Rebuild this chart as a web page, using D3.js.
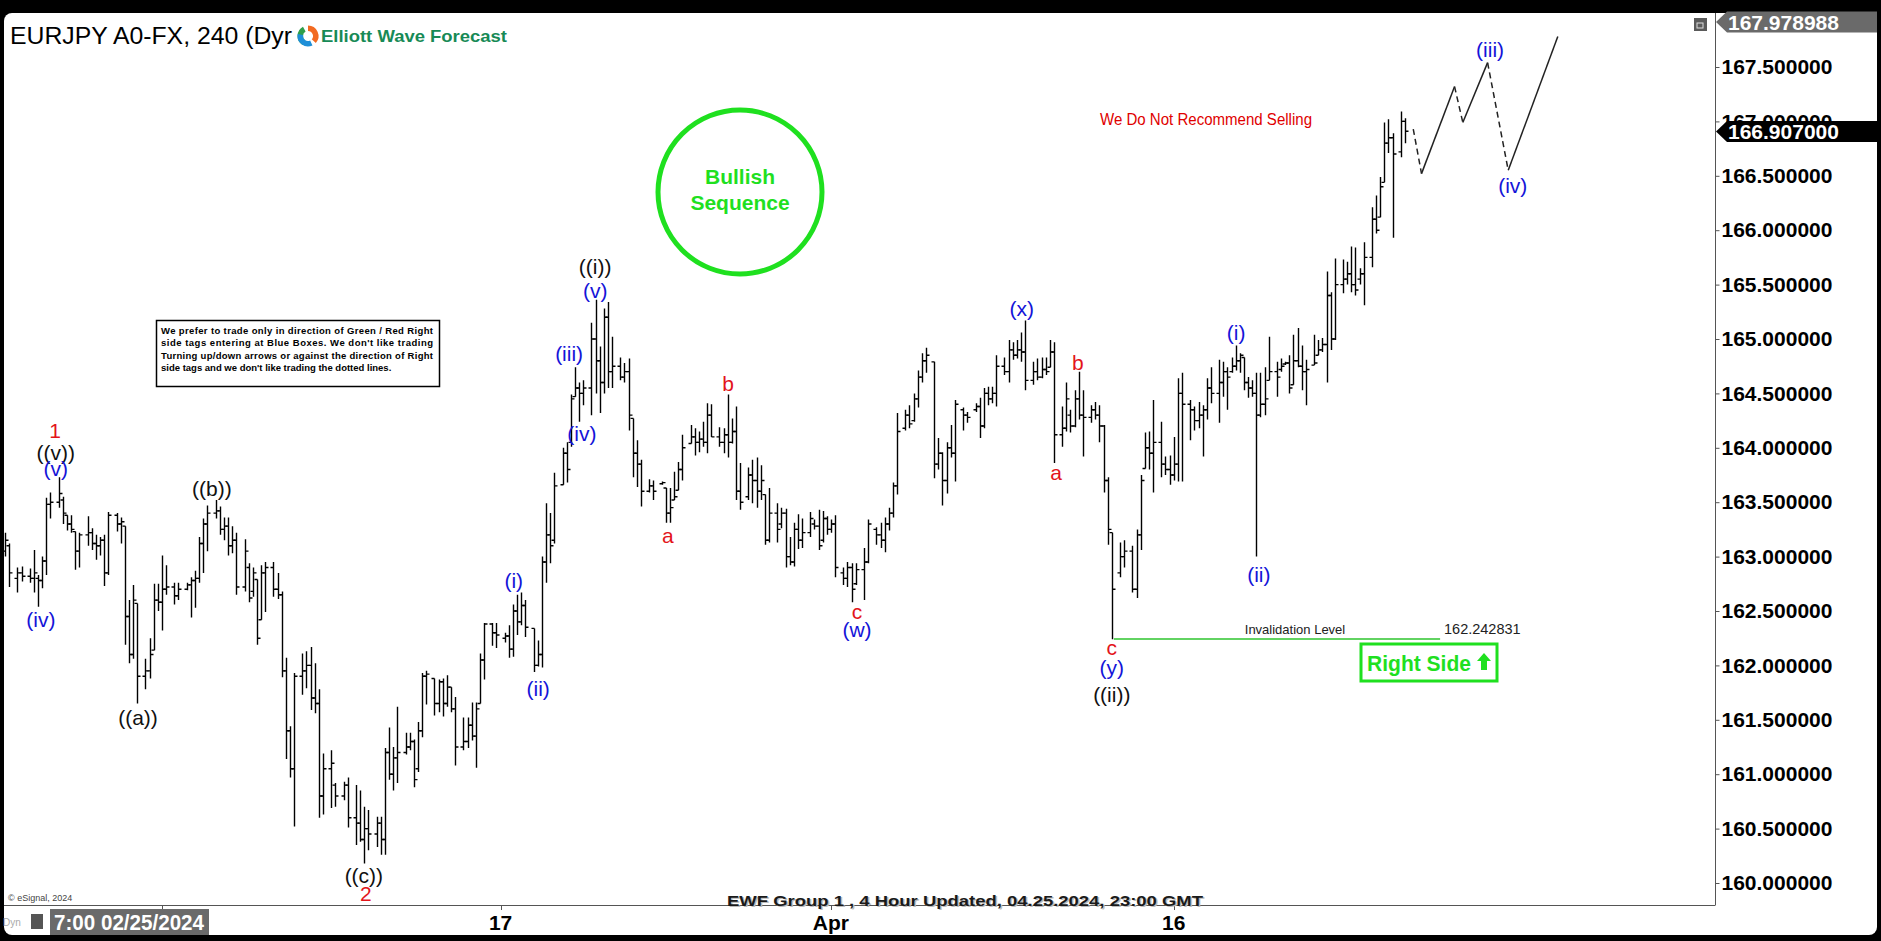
<!DOCTYPE html>
<html><head><meta charset="utf-8">
<script src="https://cdn.jsdelivr.net/npm/d3@7"></script>
<style>body{margin:0;background:#000;overflow:hidden}svg{display:block}</style>
</head><body>
<svg id="chart" width="1881" height="941"></svg>
<script>
// ---------- DATA (4-hour bars, index = bar slot) ----------
const barSlot = [
 0,1,3,4,6,7,8,9,10,11,13,14,15,16,17,18,20,21,22,23,24,25,27,28,29,30,31,32,34,35,36,37,38,39,41,42,44,45,46,47,48,49,51,52,53,54,55,56,58,
 59,60,61,62,63,65,66,67,68,69,70,72,73,74,75,76,77,79,80,82,83,85,86,87,88,90,91,92,93,94,95,97,98,99,100,101,102,104,105,106,107,108,109,111,112,113,114,115,116,118,119,
 121,122,123,124,125,126,128,129,130,131,132,133,135,136,137,138,139,140,142,143,144,145,146,147,149,150,151,152,153,154,156,157,159,160,161,162,163,164,166,167,168,169,170,171,173,174,175,176,177,178,180,181,182,
 183,184,185,187,188,189,190,191,192,193,195,196,197,198,199,200,201,203,204,205,206,208,209,211,212,213,214,215,216,218,219,220,221,222,223,225,226,227,228,229,230,232,233,235,236,237,238,239,240,242,243,
 244,245,246,247,249,250,251,252,253,254,256,257,258,259,260,261,263,264,265,266,267,268,270,271,273,274,275,276,277,278,280,281,282,283,284,285,287,288,289,290,291,292,294,295,296,297,298,299,300,301,302,303,
 304,305,306,308,309,310,311,312,313,314,315,317,318,319,320,321,322,324,325,326,327,328,329,331,332,333,334,335,336,338,339];
const barOpen = [
 163.05,163.10,162.80,162.85,162.82,162.80,162.80,162.78,162.96,163.48,163.50,163.52,163.38,163.30,163.23,163.05,163.20,163.22,163.12,163.10,163.15,162.85,163.38,163.30,163.28,162.45,162.10,162.57,161.90,161.95,162.14,162.60,162.58,162.70,162.72,162.64,162.70,162.74,162.78,162.80,163.12,163.30,163.40,163.42,163.25,163.28,163.10,163.15,162.72,
 162.90,162.68,162.79,162.42,162.85,162.90,162.70,162.65,161.95,161.40,161.05,161.90,161.95,162.00,161.70,161.65,160.80,161.05,160.90,160.80,160.90,160.60,160.55,160.40,160.50,160.45,160.55,160.40,161.20,161.00,161.15,161.20,161.25,161.30,161.05,161.40,161.90,161.88,161.65,161.85,161.65,161.80,161.60,161.25,161.30,161.45,161.35,161.65,162.05,162.38,162.30,
 162.25,162.27,162.15,162.50,162.40,162.55,162.34,162.00,162.10,162.95,163.20,163.15,163.66,163.95,164.05,164.47,164.55,164.50,164.55,165.00,164.80,164.60,165.20,164.70,164.75,164.65,164.70,164.27,163.95,163.85,163.60,163.65,163.67,163.63,163.40,163.52,163.61,163.80,164.04,164.10,164.05,164.08,164.05,164.30,164.10,164.05,164.12,164.05,164.15,163.60,163.55,163.75,163.70,
 163.60,163.57,163.15,163.40,163.30,163.40,163.00,162.95,163.25,163.15,163.22,163.30,163.28,163.15,163.35,163.25,163.30,162.85,162.80,162.90,162.75,162.88,162.95,163.25,163.20,163.15,163.30,163.40,163.65,164.18,164.30,164.25,164.45,164.65,164.80,164.79,163.85,163.95,163.70,164.00,163.95,164.35,164.30,164.35,164.38,164.20,164.50,164.45,164.50,164.75,164.70,
 164.90,164.85,164.90,164.88,164.62,164.70,164.65,164.72,164.74,164.88,164.12,164.18,164.30,164.20,164.45,164.30,164.28,164.35,164.30,164.20,163.70,163.22,162.85,163.00,163.05,162.70,163.20,163.81,164.00,163.95,164.05,163.85,163.80,163.75,163.85,164.50,164.40,164.35,164.25,164.30,164.35,164.55,164.50,164.60,164.70,164.70,164.75,164.80,164.83,164.60,164.55,164.50,
 164.30,164.40,164.62,164.70,164.72,164.77,164.78,164.58,164.80,164.75,164.70,164.76,164.85,164.90,164.95,165.40,165.00,165.50,165.55,165.60,165.50,165.55,165.60,165.75,166.10,166.12,166.44,166.80,166.85,166.72,167.00];
const barHigh = [
 163.22,163.12,162.90,162.91,162.89,163.06,162.83,163.00,163.54,163.59,163.73,163.55,163.38,163.38,163.23,163.22,163.37,163.26,163.20,163.18,163.20,163.41,163.40,163.36,163.28,162.60,162.74,162.57,162.06,162.25,162.75,162.75,163.01,162.92,162.76,162.76,162.76,162.81,162.87,163.18,163.35,163.47,163.52,163.46,163.36,163.36,163.28,163.22,163.16,
 162.94,162.90,162.79,162.92,162.95,162.95,162.85,162.68,162.07,161.44,161.93,162.11,162.13,162.17,162.02,161.78,161.19,161.22,160.92,160.93,160.97,160.90,160.85,160.70,160.67,160.61,160.61,161.24,161.43,161.25,161.62,161.38,161.38,161.32,161.48,161.93,161.95,161.88,161.87,161.88,161.91,161.80,161.71,161.52,161.52,161.66,161.66,162.11,162.39,162.39,162.39,
 162.30,162.37,162.56,162.65,162.67,162.60,162.34,162.23,163.00,163.49,163.40,163.77,164.00,164.05,164.49,164.74,164.60,164.62,165.15,165.36,164.93,165.28,165.34,165.02,164.83,164.78,164.82,164.27,164.07,163.89,163.71,163.70,163.69,163.63,163.63,163.78,163.87,164.12,164.21,164.18,164.15,164.24,164.41,164.40,164.19,164.18,164.49,164.27,164.38,163.86,163.82,163.89,163.91,
 163.84,163.57,163.63,163.49,163.45,163.44,163.18,163.31,163.39,163.35,163.41,163.34,163.43,163.42,163.37,163.34,163.38,162.90,162.95,162.94,162.94,163.08,163.34,163.27,163.31,163.36,163.45,163.68,164.32,164.35,164.39,164.50,164.71,164.87,164.92,164.79,164.09,163.96,164.05,164.21,164.44,164.37,164.33,164.41,164.46,164.55,164.56,164.56,164.85,164.83,164.99,
 164.97,164.99,165.06,165.17,164.79,164.82,164.83,164.83,164.99,164.97,164.38,164.60,164.35,164.53,164.70,164.53,164.39,164.42,164.39,164.21,163.73,163.22,163.13,163.15,163.10,163.25,163.75,164.14,164.15,164.44,164.24,163.92,163.93,164.10,164.64,164.69,164.44,164.38,164.42,164.39,164.64,164.74,164.81,164.79,164.74,164.83,164.94,164.87,164.83,164.65,164.62,164.69,
 164.69,164.74,165.02,164.79,164.82,164.79,164.85,165.04,165.10,164.94,164.81,165.04,164.99,165.01,165.62,165.43,165.74,165.73,165.71,165.85,165.84,165.65,165.89,166.21,166.32,166.49,166.99,167.02,166.89,167.09,167.03];
const barLow = [
 163.00,162.72,162.67,162.77,162.76,162.67,162.54,162.71,162.83,163.35,163.45,163.30,163.24,163.22,162.88,162.90,163.10,163.06,162.97,163.01,162.73,162.83,163.23,163.12,162.19,162.02,162.06,161.65,161.78,161.88,162.14,162.50,162.32,162.65,162.56,162.60,162.69,162.44,162.53,162.76,162.85,163.05,163.35,163.20,163.15,163.01,163.03,162.65,162.68,
 162.58,162.63,162.19,162.42,162.49,162.63,162.61,161.89,161.14,160.97,160.52,161.73,161.79,161.59,161.56,160.60,160.63,160.69,160.70,160.76,160.51,160.35,160.38,160.18,160.30,160.33,160.26,160.26,160.95,160.85,160.92,161.18,161.22,160.88,161.02,161.34,161.64,161.54,161.57,161.53,161.62,161.57,161.08,161.22,161.24,161.31,161.06,161.65,161.87,162.18,162.16,
 162.21,162.07,162.08,162.28,162.37,162.26,161.94,161.99,161.98,162.76,162.94,163.12,163.66,163.68,164.01,164.47,164.24,164.39,164.30,164.50,164.32,164.50,164.55,164.55,164.62,164.60,164.16,163.73,163.64,163.46,163.59,163.52,163.66,163.31,163.31,163.52,163.61,163.70,164.04,163.93,163.96,164.01,163.95,164.10,164.01,163.95,163.91,164.04,163.52,163.43,163.52,163.49,163.45,
 163.52,163.11,163.13,163.13,163.26,162.90,162.92,162.91,163.07,163.08,163.18,163.25,163.06,163.13,163.20,163.22,162.81,162.74,162.72,162.58,162.74,162.60,162.94,163.11,163.08,163.04,163.24,163.36,163.57,164.16,164.18,164.24,164.37,164.60,164.69,163.72,163.80,163.47,163.58,163.91,163.69,164.16,164.23,164.33,164.09,164.18,164.39,164.41,164.38,164.67,164.60,
 164.81,164.82,164.79,164.53,164.58,164.62,164.64,164.67,164.74,163.86,164.01,164.15,164.14,164.19,164.26,163.92,164.23,164.26,164.05,163.59,163.11,162.24,162.81,162.90,162.67,162.62,163.06,163.81,163.80,163.59,163.73,163.75,163.66,163.70,163.69,163.69,164.07,164.16,164.18,163.92,164.26,164.41,164.23,164.47,164.35,164.69,164.71,164.69,164.53,164.46,164.47,163.00,
 164.28,164.30,164.62,164.47,164.70,164.76,164.50,164.58,164.74,164.53,164.39,164.76,164.85,164.88,164.60,164.90,164.99,165.42,165.50,165.43,165.40,165.50,165.31,165.66,165.97,166.12,166.44,166.71,165.93,166.67,166.80];
const barClose = [
 163.15,162.85,162.85,162.82,162.80,162.85,162.78,162.96,163.48,163.50,163.58,163.40,163.30,163.25,163.05,163.20,163.22,163.12,163.10,163.15,162.85,163.38,163.30,163.32,162.45,162.10,162.60,161.90,161.95,162.10,162.60,162.58,162.70,162.72,162.64,162.70,162.74,162.78,162.80,163.12,163.30,163.40,163.42,163.25,163.28,163.10,163.15,162.72,163.05,
 162.62,162.85,162.25,162.85,162.90,162.70,162.65,161.95,161.40,161.05,161.90,161.95,162.00,161.70,161.65,160.80,161.05,161.10,160.80,160.90,160.60,160.55,160.40,160.50,160.45,160.55,160.40,161.20,161.00,161.15,161.20,161.25,161.30,160.95,161.40,161.90,161.92,161.65,161.85,161.65,161.80,161.60,161.25,161.30,161.45,161.35,161.60,162.05,162.38,162.30,162.28,
 162.27,162.15,162.50,162.40,162.55,162.35,162.00,162.10,162.95,163.20,163.10,163.65,163.95,163.80,164.45,164.55,164.50,164.55,165.00,164.80,164.60,165.20,164.70,164.75,164.65,164.70,164.30,163.95,163.85,163.60,163.65,163.60,163.68,163.40,163.45,163.55,163.80,164.00,164.10,164.05,164.08,164.05,164.30,164.10,164.05,164.12,164.05,164.15,163.60,163.50,163.75,163.70,163.60,
 163.70,163.15,163.40,163.25,163.40,163.00,162.95,163.25,163.15,163.22,163.35,163.28,163.10,163.35,163.25,163.30,162.90,162.80,162.90,162.70,162.88,162.95,163.30,163.20,163.15,163.30,163.40,163.65,164.15,164.30,164.22,164.45,164.65,164.80,164.85,163.85,163.95,163.70,164.00,163.95,164.40,164.30,164.28,164.38,164.20,164.50,164.45,164.50,164.75,164.70,164.90,
 164.85,164.90,164.88,164.62,164.70,164.65,164.72,164.70,164.88,164.12,164.18,164.45,164.20,164.45,164.30,164.28,164.35,164.30,164.20,163.70,163.25,162.70,163.00,163.05,162.70,163.20,163.70,164.00,163.95,164.05,163.85,163.80,163.75,163.85,164.50,164.40,164.35,164.25,164.30,164.35,164.55,164.50,164.60,164.70,164.65,164.75,164.80,164.85,164.60,164.55,164.50,164.30,
 164.40,164.45,164.70,164.65,164.75,164.78,164.55,164.80,164.75,164.70,164.72,164.78,164.90,164.95,165.40,165.00,165.50,165.55,165.60,165.50,165.45,165.60,165.75,166.10,166.00,166.40,166.80,166.85,166.70,167.00,166.91];

// projected path
const projSlot  = [341, 343, 351, 353, 359, 364, 376];
const projPrice = [166.93, 166.52, 167.32, 166.99, 167.54, 166.55, 167.78];
const projDashed = [true, false, true, false, true, false];

// wave labels
const waveText  = ["1","((v))","(v)","(iv)","((a))","((b))","((c))","2","(i)","(ii)","(iii)","(iv)","(v)","((i))","a","b","c","(w)","(x)","b","a","c","(y)","((ii))","(i)","(ii)","(iii)","(iv)"];
const waveSlot  = [12.1,12.3,12.3,8.7,32.2,50.1,86.9,87.4,123.2,129.1,136.6,139.7,142.9,142.9,160.5,175.1,206.3,206.3,246.2,259.8,254.5,268,268,268,298.1,303.6,359.6,365.1];
const wavePrice = [164.16,163.96,163.81,162.42,161.52,163.63,160.07,159.90,162.78,161.79,164.87,164.13,165.45,165.67,163.19,164.59,162.50,162.33,165.28,164.78,163.77,162.16,161.98,161.73,165.06,162.84,167.66,166.41];
const waveColor = ["red","black","blue","blue","black","black","black","red","blue","blue","blue","blue","blue","black","red","red","red","blue","blue","red","red","red","blue","black","blue","blue","blue","blue"];

// axes
const priceTicks = [160,160.5,161,161.5,162,162.5,163,163.5,164,164.5,165,165.5,166,166.5,167,167.5];
const timeTickSlot  = [38, 120, 200, 283];
const timeTickLabel = ["", "17", "Apr", "16"];
const firstTimeLabel = "7:00 02/25/2024";
const lastPrice = 166.907;
const topPrice = 167.978988;
const invalidationLevel = 162.242831;
const invalidationSlots = [268.5, 347.5];
const noteLines = [
 "We prefer to trade only in direction of Green / Red Right",
 "side tags entering at Blue Boxes. We don't like trading",
 "Turning up/down arrows or against the direction of Right",
 "side tags and we don't like trading the dotted lines."];

// ---------- DRAW ----------
const svg = d3.select("#chart");
const W = 1881, H = 941;
const plotL = 4, plotR = 1715, plotT = 13, plotB = 905;
const x = d3.scaleLinear().domain([0, 339]).range([5, 1405]);
const y = d3.scaleLinear().domain([160, 167.5]).range([883, 67]);
const colors = {red:"#e3141b", blue:"#1414d8", black:"#111"};
const F = "'Liberation Sans', Arial, sans-serif";
const FN = "'Liberation Sans Narrow','Arial Narrow','Liberation Sans',Arial,sans-serif";

svg.append("rect").attr("width", W).attr("height", H).attr("fill", "#000");
svg.append("rect").attr("x", 4).attr("y", 13).attr("width", 1873).attr("height", 922).attr("rx", 8).attr("fill", "#fff");

svg.append("defs").append("clipPath").attr("id", "plotclip")
  .append("rect").attr("x", plotL).attr("y", plotT).attr("width", plotR - plotL).attr("height", plotB - plotT);

const plot = svg.append("g").attr("clip-path", "url(#plotclip)");

// title & logo
svg.append("text").attr("x", 10).attr("y", 36).attr("dominant-baseline", "central")
  .attr("font-family", F).attr("font-size", 23).attr("fill", "#000")
  .attr("textLength", 282).attr("lengthAdjust", "spacingAndGlyphs").text("EURJPY A0-FX, 240 (Dyr");
const logo = svg.append("g").attr("transform", "translate(308,36)");
const arc = d3.arc().innerRadius(5).outerRadius(10.5);
[["#2f9e4a", -2.6, -0.5], ["#f26a21", 0.0, 2.3], ["#1e8fd8", 2.7, 4.9]].forEach(a => {
  logo.append("path").attr("d", arc({startAngle: a[1], endAngle: a[2]})).attr("fill", a[0]);
});
svg.append("text").attr("x", 321).attr("y", 36).attr("dominant-baseline", "central")
  .attr("font-family", F).attr("font-weight", "bold").attr("font-size", 17).attr("fill", "#178a56")
  .attr("textLength", 186).attr("lengthAdjust", "spacingAndGlyphs").text("Elliott Wave Forecast");

// small window icon
svg.append("rect").attr("x", 1694).attr("y", 18).attr("width", 13).attr("height", 13).attr("fill", "#5a5a5a");
svg.append("rect").attr("x", 1697).attr("y", 23).attr("width", 6).attr("height", 5).attr("fill", "none").attr("stroke", "#ddd").attr("stroke-width", 1);

// OHLC bars
const bars = barSlot.map((s, i) => ({s, o: barOpen[i], h: barHigh[i], l: barLow[i], c: barClose[i]}));
plot.append("g").selectAll("path").data(bars).join("path")
  .attr("d", d => {
    const cx = Math.round(x(d.s)) + 0.5;
    return `M${cx},${y(d.h)}V${y(d.l)}M${cx - 3},${y(d.o)}H${cx}M${cx},${y(d.c)}H${cx + 3}`;
  })
  .attr("stroke", "#000").attr("stroke-width", 1.4).attr("fill", "none");

// projection
for (let i = 0; i < projSlot.length - 1; i++) {
  plot.append("line")
    .attr("x1", x(projSlot[i])).attr("y1", y(projPrice[i]))
    .attr("x2", x(projSlot[i + 1])).attr("y2", y(projPrice[i + 1]))
    .attr("stroke", "#222").attr("stroke-width", 1.5)
    .attr("stroke-dasharray", projDashed[i] ? "6,4" : null);
}

// invalidation
plot.append("line").attr("x1", x(invalidationSlots[0])).attr("x2", x(invalidationSlots[1]))
  .attr("y1", y(invalidationLevel)).attr("y2", y(invalidationLevel))
  .attr("stroke", "#2ec42e").attr("stroke-width", 1.3);
plot.append("text").attr("x", 1295).attr("y", y(invalidationLevel) - 9).attr("text-anchor", "middle")
  .attr("dominant-baseline", "central").attr("font-family", F).attr("font-size", 13).attr("fill", "#222")
  .text("Invalidation Level");
plot.append("text").attr("x", 1444).attr("y", y(invalidationLevel) - 10)
  .attr("dominant-baseline", "central").attr("font-family", F).attr("font-size", 14.5).attr("fill", "#222")
  .text(invalidationLevel.toFixed(6));

// wave labels
plot.append("g").selectAll("text").data(waveText).join("text")
  .attr("x", (d, i) => x(waveSlot[i])).attr("y", (d, i) => y(wavePrice[i]))
  .attr("text-anchor", "middle").attr("dominant-baseline", "central")
  .attr("font-family", F).attr("font-size", 21)
  .attr("fill", (d, i) => colors[waveColor[i]]).text(d => d);

// Bullish sequence circle
plot.append("circle").attr("cx", 740).attr("cy", 192).attr("r", 82)
  .attr("fill", "none").attr("stroke", "#1fe01f").attr("stroke-width", 5);
[["Bullish", 176], ["Sequence", 202]].forEach(t => {
  plot.append("text").attr("x", 740).attr("y", t[1]).attr("text-anchor", "middle").attr("dominant-baseline", "central")
    .attr("font-family", F).attr("font-weight", "bold").attr("font-size", 21).attr("fill", "#1fe01f").text(t[0]);
});

// red note
plot.append("text").attr("x", 1100).attr("y", 119).attr("dominant-baseline", "central")
  .attr("font-family", F).attr("font-size", 16).attr("fill", "#e00000")
  .attr("textLength", 212).attr("lengthAdjust", "spacingAndGlyphs").text("We Do Not Recommend Selling");

// note box
plot.append("rect").attr("x", 156.5).attr("y", 320.5).attr("width", 283).attr("height", 66)
  .attr("fill", "#fff").attr("stroke", "#000").attr("stroke-width", 1.5);
noteLines.forEach((t, i) => {
  const tx = plot.append("text").attr("x", 161).attr("y", 330 + i * 12.5).attr("dominant-baseline", "central")
    .attr("font-family", F).attr("font-weight", "bold").attr("font-size", 9.5).attr("fill", "#000").text(t);
  if (i < 3) tx.attr("textLength", 272).attr("lengthAdjust", "spacing");
});

// Right Side box
plot.append("rect").attr("x", 1361).attr("y", 644).attr("width", 136).attr("height", 37)
  .attr("fill", "#fff").attr("stroke", "#1fe01f").attr("stroke-width", 3);
plot.append("text").attr("x", 1367).attr("y", 663).attr("dominant-baseline", "central")
  .attr("font-family", FN).attr("font-weight", "bold").attr("font-size", 22).attr("fill", "#1fe01f")
  .attr("textLength", 104).attr("lengthAdjust", "spacingAndGlyphs").text("Right Side");
plot.append("path").attr("d", "M1484,653 L1491,661 L1487,661 L1487,670 L1481,670 L1481,661 L1477,661 Z")
  .attr("fill", "#1fe01f");

// axes frame
svg.append("line").attr("x1", plotR + 0.5).attr("x2", plotR + 0.5).attr("y1", plotT).attr("y2", plotB)
  .attr("stroke", "#555").attr("stroke-width", 1);
svg.append("line").attr("x1", plotL).attr("x2", plotR + 0.5).attr("y1", plotB + 0.5).attr("y2", plotB + 0.5)
  .attr("stroke", "#555").attr("stroke-width", 1);

// right price axis
const yAxis = d3.axisRight(y).tickValues(priceTicks).tickFormat(d3.format(".6f")).tickSize(4).tickPadding(2);
const ga = svg.append("g").attr("transform", `translate(${plotR + 0.5},0)`).call(yAxis);
ga.select(".domain").remove();
ga.selectAll("line").attr("stroke", "#555");
ga.selectAll("text").attr("font-family", F).attr("font-weight", "bold").attr("font-size", 21).attr("fill", "#000");

// price tags
function tag(v, cy, fill) {
  const g = svg.append("g");
  g.append("path").attr("d", `M1716,${cy} L1727,${cy - 10.5} L1877,${cy - 10.5} L1877,${cy + 10.5} L1727,${cy + 10.5} Z`).attr("fill", fill);
  g.append("text").attr("x", 1728).attr("y", cy).attr("dominant-baseline", "central")
    .attr("font-family", F).attr("font-weight", "bold").attr("font-size", 21).attr("fill", "#fff").text(v.toFixed(6));
}
tag(topPrice, Math.max(y(topPrice), 22), "#6a6a6a");
tag(lastPrice, y(lastPrice), "#000");

// time axis
const xt = svg.append("g");
timeTickSlot.forEach((s, i) => {
  xt.append("line").attr("x1", Math.round(x(s)) + 0.5).attr("x2", Math.round(x(s)) + 0.5)
    .attr("y1", plotB).attr("y2", plotB + 5).attr("stroke", "#555");
  if (timeTickLabel[i]) {
    xt.append("text").attr("x", x(s)).attr("y", 922).attr("text-anchor", "middle").attr("dominant-baseline", "central")
      .attr("font-family", FN).attr("font-weight", "bold").attr("font-size", 21).attr("fill", "#000")
      .text(timeTickLabel[i]);
  }
});
xt.append("rect").attr("x", 50).attr("y", 909).attr("width", 159).attr("height", 26).attr("fill", "#6a6a6a");
xt.append("text").attr("x", 54).attr("y", 922).attr("dominant-baseline", "central")
  .attr("font-family", FN).attr("font-weight", "bold").attr("font-size", 22).attr("fill", "#fff")
  .attr("textLength", 150).attr("lengthAdjust", "spacingAndGlyphs").text(firstTimeLabel);
xt.append("text").attr("x", 3).attr("y", 922).attr("dominant-baseline", "central")
  .attr("font-family", FN).attr("font-size", 10).attr("fill", "#aaa").text("Dyn");
xt.append("rect").attr("x", 31).attr("y", 914).attr("width", 12).attr("height", 15).attr("fill", "#555");

// footer texts
svg.append("text").attr("x", 965).attr("y", 900).attr("text-anchor", "middle").attr("dominant-baseline", "central")
  .attr("font-family", F).attr("font-weight", "bold").attr("font-size", 15).attr("fill", "#bbb")
  .attr("textLength", 476).attr("lengthAdjust", "spacingAndGlyphs")
  .attr("transform", "translate(1.5,1.5)").text("EWF Group 1 , 4 Hour Updated, 04.25.2024, 23:00 GMT");
svg.append("text").attr("x", 965).attr("y", 900).attr("text-anchor", "middle").attr("dominant-baseline", "central")
  .attr("font-family", F).attr("font-weight", "bold").attr("font-size", 15).attr("fill", "#1a1a1a")
  .attr("textLength", 476).attr("lengthAdjust", "spacingAndGlyphs")
  .text("EWF Group 1 , 4 Hour Updated, 04.25.2024, 23:00 GMT");
svg.append("text").attr("x", 8).attr("y", 898).attr("dominant-baseline", "central")
  .attr("font-family", F).attr("font-size", 9).attr("fill", "#444").text("© eSignal, 2024");
</script>
</body></html>
